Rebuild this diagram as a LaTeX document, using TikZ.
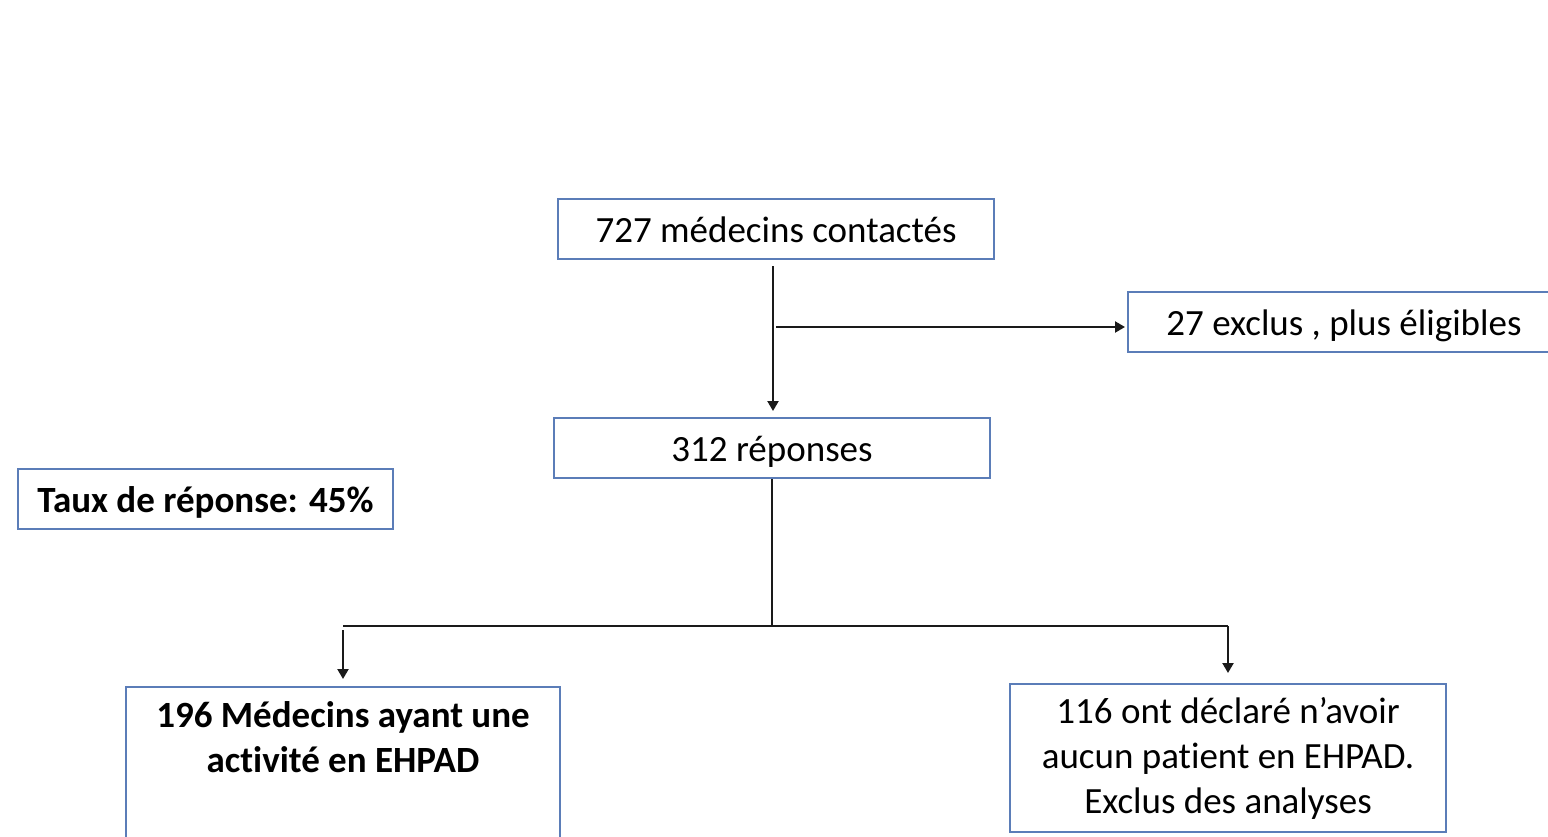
\documentclass[tikz,border=0pt]{standalone}
\usepackage{fontspec}
\setmainfont[Ligatures={NoCommon}]{Carlito}
\usetikzlibrary{arrows.meta}
\definecolor{boxblue}{HTML}{5B7DB8}
\definecolor{linegray}{HTML}{1A1A1A}
\tikzset{
  flowbox/.style={draw=boxblue, line width=2pt, fill=white, inner sep=0pt, rectangle,
    font=\fontsize{37}{45}\selectfont, align=center},
  oneline/.style={text height=30pt, text depth=4pt},
  conn/.style={draw=linegray, line width=2.2pt},
  arr/.style={conn, -{Triangle[length=10pt, width=11pt]}},
}
\begin{document}
\begin{tikzpicture}[x=1pt, y=-1pt]
\useasboundingbox (0,0) rectangle (1548,836);
\clip (0,0) rectangle (1548,836);
\fill[white] (0,0) rectangle (1548,836);

\node[flowbox, oneline, minimum width=436pt, minimum height=60pt] (n727) at (776,229) {727 médecins contactés};
\node[flowbox, oneline, minimum width=432pt, minimum height=60pt] (n27) at (1344,322) {27 exclus , plus éligibles};
\node[flowbox, oneline, minimum width=436pt, minimum height=60pt] (n312) at (772,448) {312 réponses};
\node[flowbox, oneline, minimum width=375pt, minimum height=60pt, font=\fontsize{37}{45}\selectfont\bfseries] (ntaux) at (205.5,499) {Taux de réponse: 45\%};
\node[flowbox, minimum width=434pt, minimum height=200pt, anchor=north west] (n196) at (125,686) {};
\node[anchor=north, align=center, inner sep=0pt, font=\fontsize{37}{45}\selectfont\bfseries] (t196) at ([yshift=-15pt]n196.north) {196 Médecins ayant une\\activité en EHPAD};
\node[flowbox, minimum width=436pt, minimum height=148pt] (n116) at (1228,758) {116 ont déclaré n’avoir\\aucun patient en EHPAD.\\Exclus des analyses};

% connectors
\coordinate (top1) at ([xshift=-3pt, yshift=-6pt]n727.south);
\coordinate (end1) at (top1 |- n312.north);
\coordinate (split1) at ([yshift=-67pt]n727.south);
\draw[arr] (top1) -- ([yshift=6pt]end1);
\draw[arr] (n727.south |- split1) -- ([xshift=-2pt]n27.west |- split1);

\coordinate (split2) at ([yshift=-147pt]n312.south);
\draw[conn] (n312.south) -- (n312.south |- split2);
\draw[conn] (n196.north |- split2) -- (n116.north |- split2);
\draw[arr] ([yshift=-4pt]n196.north |- split2) -- ([yshift=7pt]n196.north);
\draw[arr] (n116.north |- split2) -- ([yshift=10pt]n116.north);
\end{tikzpicture}
\end{document}
